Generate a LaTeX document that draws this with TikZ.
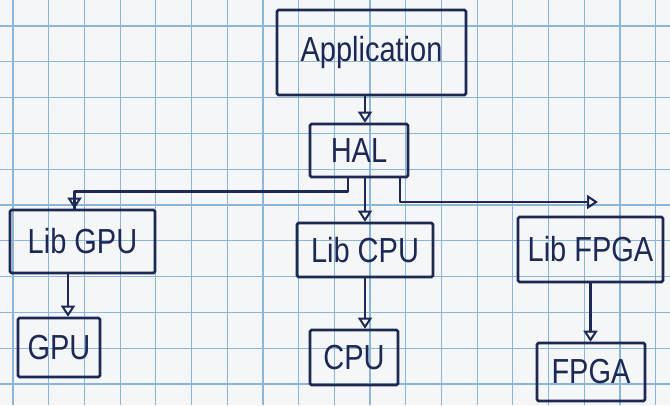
\documentclass[tikz,border=0pt]{standalone}
\usepackage{fontspec}
\setmainfont{Liberation Sans}
\usetikzlibrary{arrows.meta,calc}
\definecolor{ink}{RGB}{30,40,85}
\definecolor{gridblue}{RGB}{140,182,215}
\definecolor{paper}{RGB}{244,246,248}
\newcommand\handtext[1]{\scalebox{1}[1.2]{\fontsize{29pt}{32pt}\selectfont #1}}
\tikzset{
  box/.style={draw=ink, line width=2.6pt, rounded corners=1.5pt, inner sep=0pt,
    text=ink, font=\fontsize{29pt}{32pt}\selectfont},
  flow/.style={draw=ink, line width=2.6pt, line cap=round, line join=round,
    -{Triangle[open, length=11pt, width=14pt, line width=2pt]}},
  link/.style={draw=ink, line width=2.6pt, line cap=round, line join=round},
  gridline/.style={draw=gridblue, line width=1.2pt}
}
\begin{document}
\begin{tikzpicture}[x=1pt, y=-1pt]
  % sheet of squared paper
  \fill[paper] (0,0) rectangle (670,405);
  \useasboundingbox (0,0) rectangle (670,405);
  \foreach \k in {0,...,18} {
    \draw[gridline] ({13+35.7*\k},0) -- ({13+35.7*\k},405);
  }
  \foreach \k in {0,...,10} {
    \draw[gridline] (0,{26+35.8*\k}) -- (670,{26+35.8*\k});
  }

  % boxes
  \node[box, minimum width=189pt, minimum height=85pt] (app) at (371.5,52.5) {\handtext{Application}};
  \node[box, minimum width=98pt, minimum height=53pt] (hal) at (359,150.5) {\handtext{HAL}};
  \node[box, minimum width=145pt, minimum height=63pt] (libgpu) at (82.5,241.5) {\handtext{Lib GPU}};
  \node[box, minimum width=136pt, minimum height=54pt] (libcpu) at (365,250) {\handtext{Lib CPU}};
  \node[box, minimum width=145pt, minimum height=65pt] (libfpga) at (590.5,249.5) {\handtext{Lib FPGA}};
  \node[box, minimum width=82pt, minimum height=59pt] (gpu) at (59,347.5) {\handtext{GPU}};
  \node[box, minimum width=88pt, minimum height=55pt] (cpu) at (354,357.5) {\handtext{CPU}};
  \node[box, minimum width=108pt, minimum height=58pt] (fpga) at (591,372) {\handtext{FPGA}};

  % application to HAL
  \draw[flow] ([xshift=6pt]hal.north |- app.south) -- ([xshift=6pt]hal.north);

  % HAL fans out to the three libraries
  \coordinate (fpgaend) at (598,202);
  \draw[link] ([xshift=-11pt]hal.south) -- ++(0,13) -| ([xshift=-8pt]libgpu.north);
  \draw[flow] ([xshift=-8pt]libgpu.north) ++(0,-14) -- ([xshift=-8pt]libgpu.north);
  \draw[flow] (libcpu.north |- hal.south) -- (libcpu.north);
  \draw[flow] ([xshift=41pt]hal.south) |- (fpgaend);

  % libraries to devices
  \draw[flow] ([xshift=9pt]gpu.north |- libgpu.south) -- ([xshift=9pt]gpu.north);
  \draw[flow] (libcpu.south) -- (libcpu.south |- cpu.north);
  \draw[flow] (libfpga.south) -- (libfpga.south |- fpga.north);
\end{tikzpicture}
\end{document}
